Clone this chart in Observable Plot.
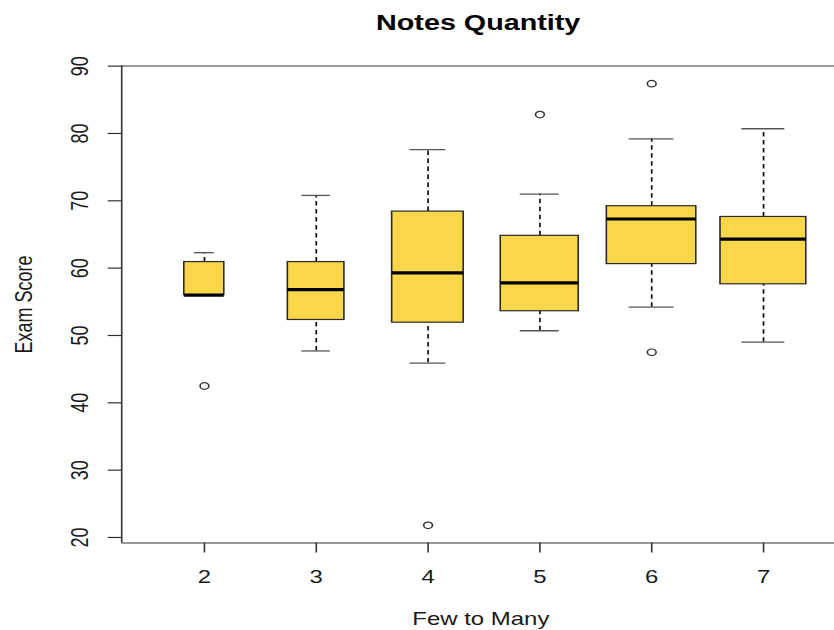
<!DOCTYPE html>
<html>
<head>
<meta charset="utf-8">
<script src="https://cdn.jsdelivr.net/npm/d3@7"></script>
<script src="https://cdn.jsdelivr.net/npm/@observablehq/plot@0.6"></script>
<style>
  html, body { margin: 0; padding: 0; background: #fff; }
  #chart svg { display: block; }
</style>
</head>
<body>
<div id="chart"></div>
<script>
// ---- data ----
const groups       = [2, 3, 4, 5, 6, 7];
const counts       = [5, 10, 16, 19, 25, 23];
const whiskerLow   = [56.0, 47.7, 45.9, 50.7, 54.2, 49.0];
const quartile1    = [56.0, 52.3, 51.9, 53.6, 60.6, 57.6];
const medians      = [56.0, 56.8, 59.3, 57.8, 67.3, 64.3];
const quartile3    = [60.9, 60.9, 68.4, 64.8, 69.2, 67.6];
const whiskerHigh  = [62.3, 70.8, 77.6, 71.0, 79.2, 80.7];
const outlierGroup = [2, 4, 5, 6, 6];
const outlierValue = [42.5, 21.8, 82.8, 87.4, 47.5];
const yTicks       = [20, 30, 40, 50, 60, 70, 80, 90];
const titleText  = "Notes Quantity";
const xLabelText = "Few to Many";
const yLabelText = "Exam Score";

// ---- derived tables ----
const maxN = d3.max(counts);
const stats = groups.map((g, i) => ({
  g, n: counts[i], lo: whiskerLow[i], q1: quartile1[i], med: medians[i],
  q3: quartile3[i], hi: whiskerHigh[i],
  hw: 0.4 * Math.sqrt(counts[i] / maxN)   // R varwidth, boxwex 0.8
}));
const outliers = outlierGroup.map((g, i) => ({g, v: outlierValue[i]}));

// ---- layout: the reference is horizontally stretched; draw in a narrower
// coordinate system and stretch the SVG to the page width ----
const outW = 834, H = 630;
const stretch = 1.33;
const W = Math.round(outW / stretch);
const xLim = [1.26, 7.636];
const yLim = [19.18, 90.02];
const font = "'Liberation Sans', Arial, Helvetica, sans-serif";
const ink = "#1a1a1a";

const chart = Plot.plot({
  width: W,
  height: H,
  marginLeft: 91,
  marginRight: 0,
  marginTop: 65.5,
  marginBottom: 87.5,
  style: {fontFamily: font, background: "white", color: ink, overflow: "visible"},
  x: {domain: xLim, axis: null},
  y: {domain: yLim, axis: null},
  marks: [
    // whiskers (dashed)
    Plot.ruleX(stats, {x: "g", y1: "q3", y2: "hi", stroke: "#111", strokeWidth: 1.3, strokeDasharray: "4.5,3.5"}),
    Plot.ruleX(stats, {x: "g", y1: "lo", y2: "q1", stroke: "#111", strokeWidth: 1.3, strokeDasharray: "4.5,3.5"}),
    // staples
    Plot.ruleY(stats, {y: "hi", x1: d => d.g - d.hw / 2, x2: d => d.g + d.hw / 2, stroke: "#555", strokeWidth: 1.3}),
    Plot.ruleY(stats, {y: "lo", x1: d => d.g - d.hw / 2, x2: d => d.g + d.hw / 2, stroke: "#555", strokeWidth: 1.3}),
    // boxes
    Plot.rect(stats, {x1: d => d.g - d.hw, x2: d => d.g + d.hw, y1: "q1", y2: "q3",
      fill: "#F9D64A", stroke: "#2a2a2a", strokeWidth: 1.2}),
    // medians
    Plot.ruleY(stats, {y: "med", x1: d => d.g - d.hw, x2: d => d.g + d.hw, stroke: "#000", strokeWidth: 3.2}),
    // outliers
    Plot.dot(outliers, {x: "g", y: "v", r: 3.3, stroke: "#333", strokeWidth: 1.2, fill: "none"}),
    // frame (left, top, bottom; right side falls off the picture)
    Plot.ruleY(yLim, {stroke: "#333", strokeWidth: 1.2}),
    Plot.ruleX([xLim[0]], {stroke: "#333", strokeWidth: 1.2}),
    // axis ticks
    Plot.axisY(yTicks, {tickSize: 10, tickFormat: () => "", label: null, stroke: "#333", strokeWidth: 1.2}),
    Plot.axisX(groups, {tickSize: 10, tickFormat: () => "", label: null, stroke: "#333", strokeWidth: 1.2}),
    // tick labels
    Plot.text(yTicks, {y: d => d, text: d => String(d), frameAnchor: "left", dx: -25.6, rotate: -90,
      lineAnchor: "bottom", textAnchor: "middle", fontSize: 18, fill: ink}),
    Plot.text(groups, {x: d => d, text: d => String(d), frameAnchor: "bottom", dy: 40.2,
      lineAnchor: "bottom", textAnchor: "middle", fontSize: 18, fill: ink}),
    // axis titles
    Plot.text([yLabelText], {text: d => d, frameAnchor: "left", dx: -67.2, rotate: -90,
      lineAnchor: "bottom", textAnchor: "middle", fontSize: 18, fill: ink}),
    Plot.text([xLabelText], {text: d => d, frameAnchor: "bottom", dx: 2, dy: 81.8,
      lineAnchor: "bottom", textAnchor: "middle", fontSize: 18, fill: ink}),
    // title
    Plot.text([titleText], {text: d => d, frameAnchor: "top", dy: -36,
      lineAnchor: "bottom", textAnchor: "middle", fontSize: 21.6, fontWeight: "bold", fill: "#000"})
  ]
});

chart.setAttribute("viewBox", `0 0 ${W} ${H}`);
chart.setAttribute("width", outW);
chart.setAttribute("height", H);
chart.setAttribute("preserveAspectRatio", "none");
chart.style.maxWidth = "none";
chart.style.width = outW + "px";
chart.style.height = H + "px";
document.getElementById("chart").appendChild(chart);
</script>
</body>
</html>
